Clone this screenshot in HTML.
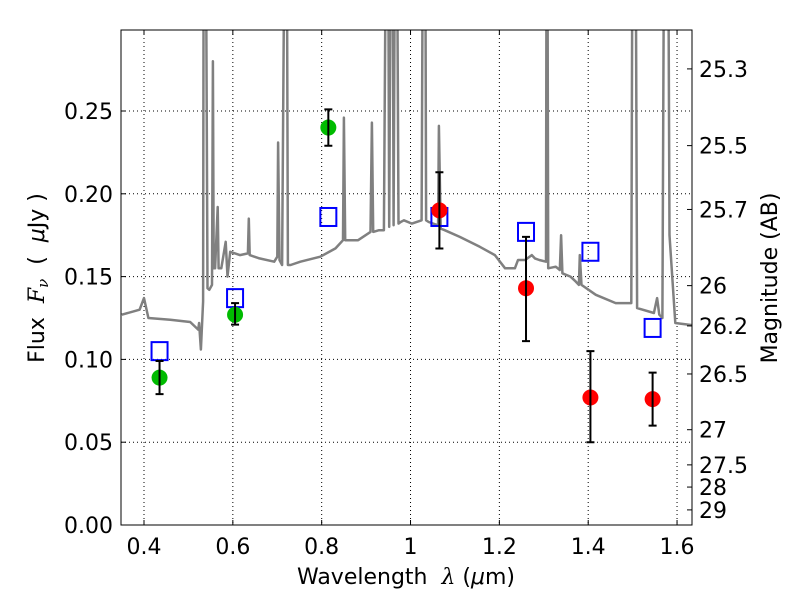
<!DOCTYPE html>
<html><head><meta charset="utf-8"><style>
body{margin:0;background:#fff;}
svg{display:block;font-family:"DejaVu Sans","Liberation Sans",sans-serif;}
</style></head><body>
<svg id="chart" width="800" height="600">
<defs><clipPath id="clip"><rect x="121" y="30" width="571" height="495"/></clipPath></defs>
<rect x="0" y="0" width="800" height="600" fill="#fff"/>
<g id="grid"></g>
<g id="spec" clip-path="url(#clip)"></g>
<g id="marks" clip-path="url(#clip)"></g>
<rect x="121" y="30" width="571" height="495" fill="none" stroke="#000" stroke-width="1"/>
<g id="axes" font-size="22"></g>
</svg>
<script>
const specX=[0.35,0.39,0.40,0.41,0.459,0.504,0.522,0.524,0.528,0.533,0.535,0.537,0.543,0.547,0.553,0.555,0.557,0.56,0.566,0.568,0.574,0.584,0.588,0.594,0.616,0.634,0.636,0.638,0.66,0.693,0.70,0.702,0.705,0.711,0.72,0.724,0.73,0.752,0.797,0.831,0.848,0.850,0.853,0.882,0.910,0.913,0.916,0.929,0.940,0.948,0.952,0.958,0.962,0.967,0.973,0.978,0.985,1.003,1.025,1.030,1.032,1.035,1.041,1.062,1.064,1.068,1.077,1.111,1.156,1.19,1.213,1.235,1.242,1.258,1.273,1.280,1.29,1.305,1.307,1.31,1.327,1.336,1.339,1.342,1.36,1.372,1.379,1.381,1.385,1.417,1.462,1.48,1.497,1.501,1.505,1.51,1.548,1.555,1.56,1.567,1.573,1.578,1.583,1.596,1.625,1.65];
const specY=[0.127,0.130,0.137,0.125,0.124,0.1226,0.118,0.122,0.106,0.135,0.5,0.5,0.143,0.142,0.145,0.28,0.155,0.155,0.192,0.155,0.155,0.171,0.15,0.165,0.163,0.164,0.185,0.163,0.161,0.159,0.162,0.231,0.16,0.157,0.5,0.157,0.157,0.159,0.162,0.167,0.172,0.246,0.172,0.172,0.177,0.243,0.177,0.178,0.178,0.5,0.18,0.5,0.181,0.5,0.182,0.183,0.184,0.182,0.184,0.5,0.5,0.184,0.183,0.181,0.241,0.179,0.178,0.174,0.168,0.163,0.155,0.155,0.160,0.160,0.163,0.161,0.16,0.159,0.5,0.155,0.156,0.154,0.175,0.152,0.150,0.147,0.145,0.163,0.145,0.139,0.134,0.134,0.134,0.5,0.5,0.131,0.128,0.137,0.127,0.125,0.5,0.5,0.175,0.122,0.121,0.120];
const photX=[0.435,0.605,0.815,1.065,1.26,1.405,1.545];
const modelY=[0.105,0.137,0.186,0.186,0.177,0.165,0.119];
const obsY=[0.089,0.127,0.240,0.190,0.143,0.077,0.076];
const obsLo=[0.079,0.121,0.229,0.167,0.111,0.050,0.060];
const obsHi=[0.099,0.134,0.251,0.213,0.174,0.105,0.092];
const obsColor=["#00bb00","#00bb00","#00bb00","#ff0000","#ff0000","#ff0000","#ff0000"];
const xTicks=[0.4,0.6,0.8,1.0,1.2,1.4,1.6];
const xTickLabels=["0.4","0.6","0.8","1","1.2","1.4","1.6"];
const yTicks=[0,0.05,0.10,0.15,0.20,0.25];
const yTickLabels=["0.00","0.05","0.10","0.15","0.20","0.25"];
const magTicks=[25.3,25.5,25.7,26,26.2,26.5,27,27.5,28,29];
const magLabels=["25.3","25.5","25.7","26","26.2","26.5","27","27.5","28","29"];

const NS="http://www.w3.org/2000/svg";
const X=v=>144+(v-0.4)*444.2;
const Y=v=>525-v*1656;
const M=m=>Y(Math.pow(10,(23.9-m)/2.5));
function mk(p,t,a){const e=document.createElementNS(NS,t);for(const k in a)e.setAttribute(k,a[k]);p.appendChild(e);return e;}
const grid=document.getElementById('grid'),spec=document.getElementById('spec'),marks=document.getElementById('marks'),axes=document.getElementById('axes');

xTicks.forEach((t,i)=>{
  const g=mk(grid,'line',{x1:X(t),x2:X(t),y1:30,y2:525,stroke:'#000','stroke-dasharray':'1,3','stroke-width':1});
  
  
  mk(axes,'line',{x1:X(t),x2:X(t),y1:525,y2:520,stroke:'#000'});
  mk(axes,'line',{x1:X(t),x2:X(t),y1:30,y2:35,stroke:'#000'});
  const l=mk(axes,'text',{x:X(t),y:554,'text-anchor':'middle'});l.textContent=xTickLabels[i];
  
  
});
yTicks.forEach((t,i)=>{
  const g=mk(grid,'line',{x1:121,x2:692,y1:Y(t),y2:Y(t),stroke:'#000','stroke-dasharray':'1,3','stroke-width':1});
  
  
  mk(axes,'line',{x1:121,x2:126,y1:Y(t),y2:Y(t),stroke:'#000'});
  const l=mk(axes,'text',{x:113,y:Y(t)+8,'text-anchor':'end'});l.textContent=yTickLabels[i];
  
  
});
magTicks.forEach((m,i)=>{
  mk(axes,'line',{x1:687,x2:692,y1:M(m),y2:M(m),stroke:'#000'});
  const l=mk(axes,'text',{x:699,y:M(m)+8,'text-anchor':'start'});l.textContent=magLabels[i];
  
  
});
const pts=specX.map((x,i)=>X(x).toFixed(1)+','+Y(specY[i]).toFixed(1)).join(' ');
const pl=mk(spec,'polyline',{points:pts,fill:'none',stroke:'#808080','stroke-width':2.5,'stroke-linejoin':'round'});


photX.forEach((x,i)=>{
  const r=mk(marks,'rect',{x:X(x)-8,y:Y(modelY[i])-9,width:16,height:18,fill:'none',stroke:'#0000ff','stroke-width':2});
  
  
});
photX.forEach((x,i)=>{
  const c=mk(marks,'circle',{cx:X(x),cy:Y(obsY[i]),r:8,fill:obsColor[i]});
  
  
  const e=mk(marks,'path',{d:`M${X(x)},${Y(obsLo[i])}V${Y(obsHi[i])}M${X(x)-4},${Y(obsLo[i])}h8M${X(x)-4},${Y(obsHi[i])}h8`,stroke:'#000','stroke-width':2,fill:'none'});
  
  
});
</script>
<svg style="position:absolute;left:0;top:0" width="800" height="600" font-family="DejaVu Sans, Liberation Sans, sans-serif" font-size="22">
<text x="406" y="584" text-anchor="middle" xml:space="preserve">Wavelength  <tspan font-family="DejaVu Serif, Liberation Serif, serif" font-style="italic">λ</tspan> (<tspan font-style="italic">μ</tspan>m)</text>
<text transform="translate(44,278) rotate(-90)" text-anchor="middle" xml:space="preserve">Flux  <tspan font-family="DejaVu Serif, Liberation Serif, serif" font-style="italic">F<tspan font-size="15" dy="4">ν</tspan></tspan><tspan dy="-4">  (  </tspan><tspan font-style="italic">μ</tspan>Jy )</text>
<text transform="translate(777,278) rotate(-90)" text-anchor="middle">Magnitude (AB)</text>
</svg>
</body></html>
